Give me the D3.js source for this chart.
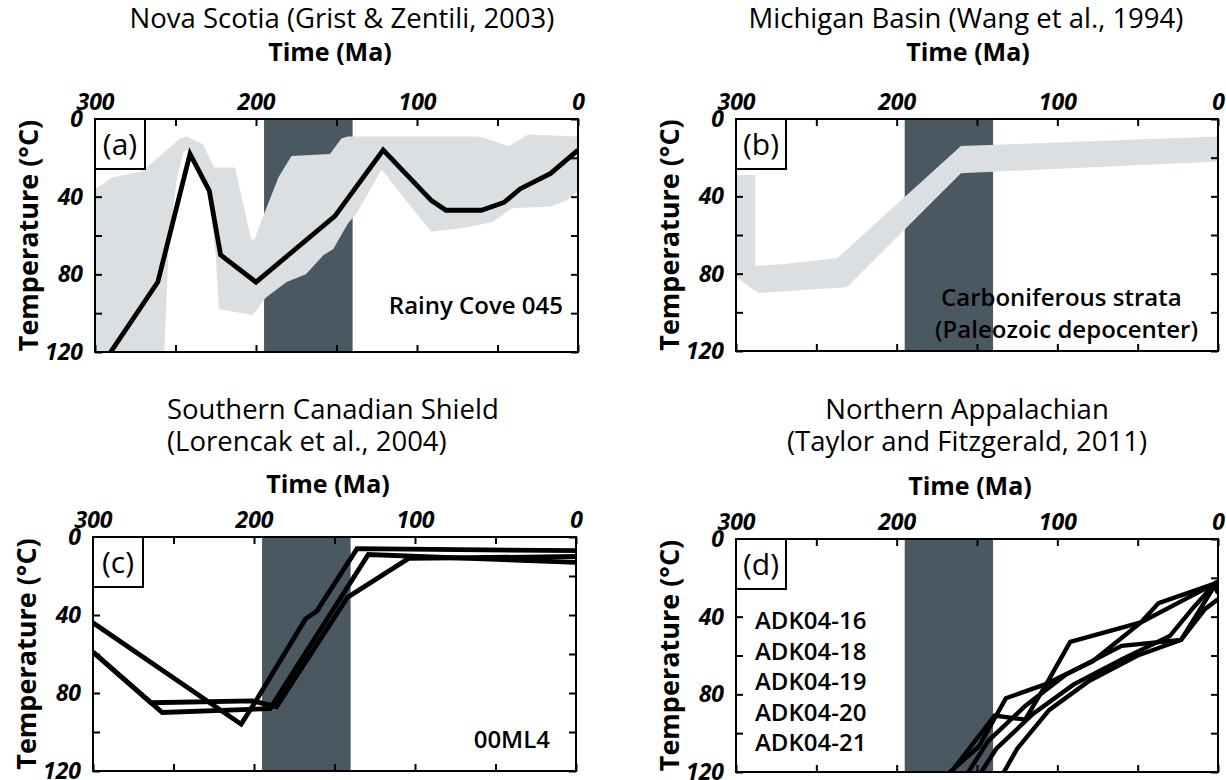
<!DOCTYPE html>
<html>
<head>
<meta charset="utf-8">
<script src="https://cdn.jsdelivr.net/npm/d3@7"></script>
<style>
  html, body { margin: 0; padding: 0; background: #fff; }
  svg { display: block; font-family: "Open Sans", "Noto Sans", sans-serif; }
</style>
</head>
<body>
<svg id="fig" width="1226" height="780"></svg>
<script>
// ---- Axis ticks ----
const timeLabels = [300, 200, 100, 0];          // labelled time ticks (Ma)
const timeTicks = [300, 250, 200, 150, 100, 50, 0];
const tempLabels = [0, 40, 80, 120];            // labelled temperature ticks (°C)
const tempTicks = [0, 20, 40, 60, 80, 100, 120];

// Shaded interval shown in every panel (Ma)
const shadedInterval = [195, 140];

// ---- (a) Nova Scotia, Rainy Cove 045: [time Ma, temperature °C] ----
const novaBestFit = [[300,132],[261,84],[241,18],[229,37],[222,70],[200,84],[151,50],[121,16],
  [91,42],[82,47],[60,47],[46,43],[36,36],[17,28],[0,16]];
const novaEnvelopeTop = [[300,36],[289,30],[271,27],[247,10],[243,9],[233,13],[226,25],[213,25],
  [203,62],[201,62],[196,51],[186,30],[178,19],[154,18],[147,10],[143,9],[62,9],[54,11],[43,14],[31,8],[0,9]];
const novaEnvelopeBase = [[0,37],[7,42],[17,45],[41,46],[53,53],[70,56],[91,58],[101,48],[122,26],
  [137,48],[143,54],[152,67],[158,70],[169,80],[181,84],[194,92],[202,101],[223,98],[225,70],
  [230,37],[241,15],[245,17],[249,30],[254,62],[257,120],[258,130],[300,130]];

// ---- (b) Michigan Basin, Carboniferous strata ----
const michiganTop = [[300,29],[288,29],[288,76],[270,75],[237,72],[160,14],[0,9]];
const michiganBase = [[0,22],[160,28],[231,87],[286,90],[300,82]];

// ---- (c) Southern Canadian Shield, 00ML4 ----
const shieldPaths = [
  [[300,44],[208,96],[198,83],[168,42],[161,38],[136,6],[0,7]],
  [[300,59],[257,90],[190,88],[129,9],[0,13]],
  [[300,59],[264,85],[201,84],[186,87],[142,31],[104,11],[0,10]]
];

// ---- (d) Northern Appalachian, ADK04 samples ----
const appalachianSamples = ["ADK04-16", "ADK04-18", "ADK04-19", "ADK04-20", "ADK04-21"];
const appalachianPaths = [
  [[175,126],[149,107],[132,82],[108,75],[78,63],[48,43],[37,33],[2,23],[0,22]],
  [[168,122],[139,91],[120,93],[105,72],[92,53],[48,43],[2,23],[0,24]],
  [[160,126],[143,104],[120,86],[95,70],[60,55],[23,52],[2,24],[0,28]],
  [[152,126],[138,108],[115,90],[90,75],[60,62],[30,50],[15,35],[2,23],[0,26]],
  [[136,124],[125,108],[105,88],[80,73],[50,60],[23,52],[8,36],[0,31]]
];

const DARK = "#4a5961";
const LIGHT = "#dbdfe1";

const svg = d3.select("#fig");

const panels = [
  { key: "a", x0: 95, x1: 578, y0: 119, y1: 352, tag: "(a)",
    title: ["Nova Scotia (Grist & Zentili, 2003)"], titleAnchor: "middle", titleX: 342,
    titleY: [28], timeX: 330, timeY: 61 },
  { key: "b", x0: 736, x1: 1218, y0: 119, y1: 351, tag: "(b)",
    title: ["Michigan Basin (Wang et al., 1994)"], titleAnchor: "middle", titleX: 966,
    titleY: [28], timeX: 968, timeY: 61 },
  { key: "c", x0: 93, x1: 576, y0: 537, y1: 771, tag: "(c)",
    title: ["Southern Canadian Shield", "(Lorencak et al., 2004)"], titleAnchor: "start", titleX: 167,
    titleY: [419, 451], timeX: 328, timeY: 493 },
  { key: "d", x0: 736, x1: 1218, y0: 539, y1: 772, tag: "(d)",
    title: ["Northern Appalachian", "(Taylor and Fitzgerald, 2011)"], titleAnchor: "middle", titleX: 967,
    titleY: [419, 451], timeX: 970, timeY: 495 }
];

function polygon(top, base) { return top.concat(base); }

panels.forEach(p => {
  const x = d3.scaleLinear().domain([300, 0]).range([p.x0, p.x1]);
  const y = d3.scaleLinear().domain([0, 120]).range([p.y0, p.y1]);
  const line = d3.line().x(d => x(d[0])).y(d => y(d[1]));
  const g = svg.append("g").attr("class", "panel-" + p.key);

  g.append("clipPath").attr("id", "clip-" + p.key)
    .append("rect").attr("x", p.x0).attr("y", p.y0)
    .attr("width", p.x1 - p.x0).attr("height", p.y1 - p.y0);
  const plot = g.append("g").attr("clip-path", `url(#clip-${p.key})`);

  // shaded time interval
  plot.append("rect")
    .attr("x", x(shadedInterval[0])).attr("y", p.y0)
    .attr("width", x(shadedInterval[1]) - x(shadedInterval[0]))
    .attr("height", p.y1 - p.y0)
    .attr("fill", DARK);

  if (p.key === "a") {
    plot.append("path").attr("d", line(polygon(novaEnvelopeTop, novaEnvelopeBase)) + "Z")
      .attr("fill", LIGHT);
    plot.append("path").attr("d", line(novaBestFit))
      .attr("fill", "none").attr("stroke", "#000").attr("stroke-width", 4.8)
      .attr("stroke-linejoin", "miter");
  }
  if (p.key === "b") {
    plot.append("path").attr("d", line(polygon(michiganTop, michiganBase)) + "Z")
      .attr("fill", LIGHT);
  }
  if (p.key === "c") {
    plot.selectAll("path.t").data(shieldPaths).join("path").attr("class", "t")
      .attr("d", line).attr("fill", "none").attr("stroke", "#000")
      .attr("stroke-width", 4.8).attr("stroke-linejoin", "miter");
  }
  if (p.key === "d") {
    plot.selectAll("path.t").data(appalachianPaths).join("path").attr("class", "t")
      .attr("d", line).attr("fill", "none").attr("stroke", "#000")
      .attr("stroke-width", 4.4).attr("stroke-linejoin", "miter");
  }

  // axes with inward ticks
  const fmtTime = d => timeLabels.includes(d) ? d : "";
  const fmtTemp = d => tempLabels.includes(d) ? d : "";
  const top = g.append("g").attr("transform", `translate(0,${p.y0})`)
    .call(d3.axisTop(x).tickValues(timeTicks).tickSizeInner(-7).tickSizeOuter(0).tickPadding(9).tickFormat(fmtTime));
  const bottom = g.append("g").attr("transform", `translate(0,${p.y1})`)
    .call(d3.axisBottom(x).tickValues(timeTicks).tickSizeInner(-7).tickSizeOuter(0).tickFormat(""));
  const left = g.append("g").attr("transform", `translate(${p.x0},0)`)
    .call(d3.axisLeft(y).tickValues(tempTicks).tickSizeInner(-7).tickSizeOuter(0).tickPadding(12).tickFormat(fmtTemp));
  const right = g.append("g").attr("transform", `translate(${p.x1},0)`)
    .call(d3.axisRight(y).tickValues(tempTicks).tickSizeInner(-7).tickSizeOuter(0).tickFormat(""));
  [top, bottom, left, right].forEach(ax => {
    ax.select(".domain").remove();
    ax.selectAll(".tick line").attr("stroke", "#000").attr("stroke-width", 2);
    ax.selectAll(".tick text")
      .attr("fill", "#000").attr("font-size", 23).attr("font-weight", 700)
      .attr("font-style", "italic").attr("font-family", "'Open Sans', sans-serif");
  });

  // frame
  g.append("rect").attr("x", p.x0).attr("y", p.y0)
    .attr("width", p.x1 - p.x0).attr("height", p.y1 - p.y0)
    .attr("fill", "none").attr("stroke", "#000").attr("stroke-width", 2);

  // panel tag box
  g.append("rect").attr("x", p.x0).attr("y", p.y0).attr("width", 50).attr("height", 50)
    .attr("fill", "#fff").attr("stroke", "#000").attr("stroke-width", 2);
  g.append("text").attr("x", p.x0 + 25).attr("y", p.y0 + 36)
    .attr("text-anchor", "middle").attr("font-size", 30).text(p.tag);

  // titles
  p.title.forEach((t, i) => {
    g.append("text").attr("x", p.titleX).attr("y", p.titleY[i])
      .attr("text-anchor", p.titleAnchor).attr("font-size", 27.5).text(t);
  });
  g.append("text").attr("x", p.timeX).attr("y", p.timeY)
    .attr("text-anchor", "middle").attr("font-size", 25).attr("font-weight", 700)
    .text("Time (Ma)");
  g.append("text")
    .attr("transform", `translate(${p.x0 - 57},${(p.y0 + p.y1) / 2}) rotate(-90)`)
    .attr("text-anchor", "middle").attr("font-size", 27).attr("font-weight", 700)
    .text("Temperature (°C)");
});

// in-panel annotations
const annot = svg.append("g").attr("font-weight", 600).attr("font-size", 24).attr("fill", "#000");
annot.append("text").attr("x", 563).attr("y", 314).attr("text-anchor", "end").text("Rainy Cove 045");
annot.append("text").attr("x", 941).attr("y", 306).text("Carboniferous strata");
annot.append("text").attr("x", 935).attr("y", 338).text("(Paleozoic depocenter)");
annot.append("text").attr("x", 550).attr("y", 748).attr("text-anchor", "end").text("00ML4");
annot.selectAll("text.sample").data(appalachianSamples).join("text").attr("class", "sample")
  .attr("x", 755).attr("y", (d, i) => 629 + i * 30.5).text(d => d);
</script>
</body>
</html>
